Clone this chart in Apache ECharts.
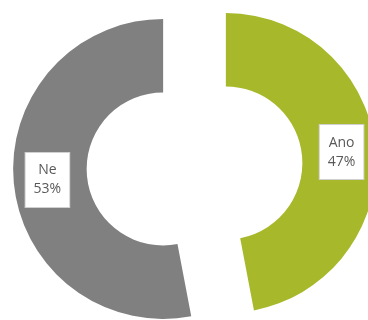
<!DOCTYPE html>
<html><head><meta charset="utf-8">
<script src="https://cdn.jsdelivr.net/npm/echarts@6/dist/echarts.min.js"></script>
<style>html,body{margin:0;padding:0;background:#fff}#c{width:368px;height:320px}</style>
</head><body><div id="c"></div>
<script>
const categories = ["Ano", "Ne"];
const values = [47, 53];
const colors = ["#a7b82a", "#808080"];

const chart = echarts.init(document.getElementById('c'), null, {renderer: 'canvas'});
chart.setOption({
  animation: false,
  series: [{
    type: 'pie',
    center: [194.5, 166],
    radius: [76.5, 150],
    startAngle: 90,
    clockwise: true,
    selectedMode: 'multiple',
    selectedOffset: 31.5,
    avoidLabelOverlap: false,
    itemStyle: {borderWidth: 0},
    emphasis: {disabled: true},
    label: {
      show: true,
      position: 'inside',
      formatter: p => p.name + '\n' + Math.round(p.percent) + '%',
      color: '#595959',
      fontFamily: 'Open Sans',
      fontSize: 14,
      lineHeight: 19,
      backgroundColor: '#fff',
      borderColor: '#d0d0d0',
      borderWidth: 1,
      padding: [8, 8, 8, 8]
    },
    labelLine: {show: false},
    data: categories.map((c, i) => ({name: c, value: values[i], selected: true, itemStyle: {color: colors[i]}}))
  }]
});
</script></body></html>
